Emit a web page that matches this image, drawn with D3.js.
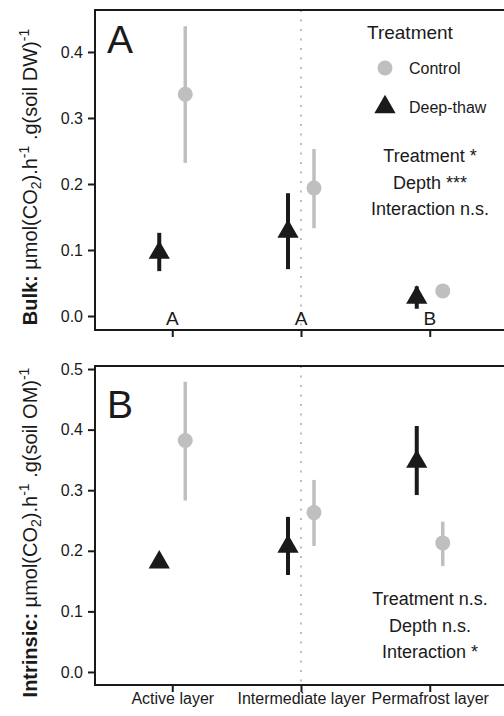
<!DOCTYPE html>
<html>
<head>
<meta charset="utf-8">
<script src="https://cdn.jsdelivr.net/npm/d3@7"></script>
<style>
  body { margin: 0; background: #fff; }
  text { font-family: "Liberation Sans", Arial, sans-serif; fill: #1a1a1a; }
</style>
</head>
<body>
<script>
const width = 504,
    height = 716

const colors = {
    control: "#bfbfbf",
    deep: "#1a1a1a",
    ink: "#1a1a1a",
    dots: "#bdbdbd"
}

// categories
const layers = ["Active layer", "Intermediate layer", "Permafrost layer"]
const treatments = ["Control", "Deep-thaw"]

// panel A: bulk respiration
const bulkControl = [0.336, 0.194, 0.038]
const bulkControlLo = [0.232, 0.133, 0.030]
const bulkControlHi = [0.439, 0.253, 0.046]
const bulkDeep = [0.096, 0.128, 0.028]
const bulkDeepLo = [0.068, 0.071, 0.011]
const bulkDeepHi = [0.126, 0.186, 0.045]
const bulkLetters = ["A", "A", "B"]
const bulkStats = ["Treatment *", "Depth ***", "Interaction n.s."]

// panel B: intrinsic respiration
const intrControl = [0.382, 0.263, 0.213]
const intrControlLo = [0.283, 0.208, 0.175]
const intrControlHi = [0.479, 0.317, 0.248]
const intrDeep = [0.181, 0.207, 0.347]
const intrDeepLo = [0.173, 0.160, 0.292]
const intrDeepHi = [0.189, 0.256, 0.406]
const intrStats = ["Treatment n.s.", "Depth n.s.", "Interaction *"]

const bulkTicks = [0, 0.1, 0.2, 0.3, 0.4]
const intrTicks = [0, 0.1, 0.2, 0.3, 0.4, 0.5]

const svg = d3.select("body")
    .append("svg")
        .attr("width", width)
        .attr("height", height)

const left = 95, right = 507
const x = d3.scalePoint().domain(layers).range([left, right]).padding(0.6)
const dodge = d3.scalePoint().domain(["Deep-thaw", "Control"]).range([-13, 13])

const panels = [
    {
        top: 10, bottom: 330, domain: [-0.0212, 0.4636], ticks: bulkTicks,
        tag: "A", tagY: 53, xLabels: false, statsY: 162,
        stats: bulkStats, letters: bulkLetters,
        label: ["Bulk:", "soil DW"],
        series: [
            { t: "Control", m: bulkControl, lo: bulkControlLo, hi: bulkControlHi },
            { t: "Deep-thaw", m: bulkDeep, lo: bulkDeepLo, hi: bulkDeepHi }
        ]
    },
    {
        top: 366, bottom: 685, domain: [-0.0215, 0.505], ticks: intrTicks,
        tag: "B", tagY: 418, xLabels: true, statsY: 605,
        stats: intrStats, letters: null,
        label: ["Intrinsic:", "soil OM"],
        series: [
            { t: "Control", m: intrControl, lo: intrControlLo, hi: intrControlHi },
            { t: "Deep-thaw", m: intrDeep, lo: intrDeepLo, hi: intrDeepHi }
        ]
    }
]

panels.forEach(p => {
    const y = d3.scaleLinear().domain(p.domain).range([p.bottom, p.top])
    const g = svg.append("g")

    // dotted guide at the intermediate layer
    g.append("line")
        .attr("x1", x("Intermediate layer")).attr("x2", x("Intermediate layer"))
        .attr("y1", p.top).attr("y2", p.bottom)
        .attr("stroke", colors.dots)
        .attr("stroke-width", 2)
        .attr("stroke-dasharray", "2,7.5")

    // frame
    g.append("rect")
        .attr("x", left).attr("y", p.top)
        .attr("width", right - left).attr("height", p.bottom - p.top)
        .attr("fill", "none")
        .attr("stroke", colors.ink)
        .attr("stroke-width", 2)

    // axes
    const ya = g.append("g")
        .attr("transform", `translate(${left},0)`)
        .call(d3.axisLeft(y).tickValues(p.ticks).tickSize(7).tickPadding(5)
            .tickFormat(d3.format(".1f")))
    const xa = g.append("g")
        .attr("transform", `translate(0,${p.bottom})`)
        .call(d3.axisBottom(x).tickSize(7).tickPadding(1))
    ;[ya, xa].forEach(a => {
        a.select(".domain").remove()
        a.selectAll(".tick line").attr("stroke", colors.ink).attr("stroke-width", 2)
        a.selectAll(".tick text")
            .style("font-family", "'Liberation Sans', Arial, sans-serif")
            .style("font-size", "16px")
            .attr("fill", colors.ink)
    })
    if (!p.xLabels) xa.selectAll(".tick text").remove()

    // error bars and points
    p.series.forEach(s => {
        const col = s.t === "Control" ? colors.control : colors.deep
        const cx = i => x(layers[i]) + dodge(s.t)
        g.selectAll(null)
            .data(s.m)
            .enter()
            .append("line")
                .attr("x1", (d, i) => cx(i)).attr("x2", (d, i) => cx(i))
                .attr("y1", (d, i) => y(s.lo[i]))
                .attr("y2", (d, i) => y(s.hi[i]))
                .attr("stroke", col)
                .attr("stroke-width", s.t === "Control" ? 3.5 : 4)
        g.selectAll(null)
            .data(s.m)
            .enter()
            .append("path")
                .attr("d", d3.symbol()
                    .type(s.t === "Control" ? d3.symbolCircle : d3.symbolTriangle)
                    .size(s.t === "Control" ? 177 : 195))
                .attr("transform", (d, i) => `translate(${cx(i)},${y(d)})`)
                .attr("fill", col)
    })

    // panel tag
    g.append("text")
        .attr("x", 107).attr("y", p.tagY)
        .style("font-size", "39px")
        .text(p.tag)

    // stats text
    g.selectAll(null)
        .data(p.stats)
        .enter()
        .append("text")
            .attr("x", 430)
            .attr("y", (d, i) => p.statsY + i * 26.5)
            .attr("text-anchor", "middle")
            .style("font-size", "18px")
            .text(d => d)

    // group letters
    if (p.letters) {
        g.selectAll(null)
            .data(p.letters)
            .enter()
            .append("text")
                .attr("x", (d, i) => x(layers[i]))
                .attr("y", y(0) + 9)
                .attr("text-anchor", "middle")
                .style("font-size", "19px")
                .text(d => d)
    }

    // y title
    const t = g.append("text")
        .attr("transform", `translate(37,${(p.top + p.bottom) / 2 + 7}) rotate(-90)`)
        .attr("text-anchor", "middle")
        .style("font-size", "20px")
    t.append("tspan").style("font-weight", "bold").text(p.label[0])
    t.append("tspan").text(" \u00b5mol(CO")
    t.append("tspan").style("font-size", "14px").attr("dy", 4).text("2")
    t.append("tspan").attr("dy", -4).text(").h")
    t.append("tspan").style("font-size", "14px").attr("dy", -8).text("-1")
    t.append("tspan").attr("dy", 8).text(" .g(" + p.label[1] + ")")
    t.append("tspan").style("font-size", "14px").attr("dy", -8).text("-1")
})

// legend
const legend = svg.append("g")
legend.append("text")
    .attr("x", 367).attr("y", 39)
    .style("font-size", "19px")
    .text("Treatment")
const legendY = d3.scalePoint().domain(treatments).range([68, 107])
treatments.forEach(t => {
    legend.append("path")
        .attr("d", d3.symbol()
            .type(t === "Control" ? d3.symbolCircle : d3.symbolTriangle)
            .size(t === "Control" ? 177 : 195))
        .attr("transform", `translate(385,${legendY(t)})`)
        .attr("fill", t === "Control" ? colors.control : colors.deep)
    legend.append("text")
        .attr("x", 409).attr("y", legendY(t))
        .attr("dy", "0.35em")
        .style("font-size", "16px")
        .text(t)
})
</script>
</body>
</html>
